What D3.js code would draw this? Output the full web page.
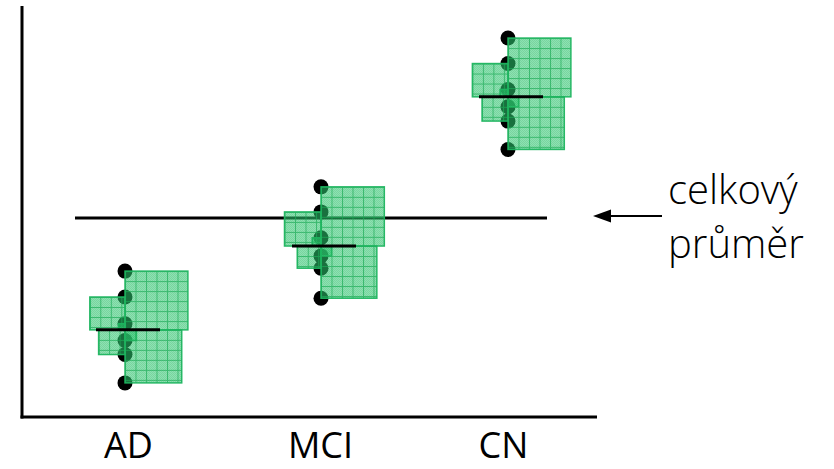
<!DOCTYPE html>
<html>
<head>
<meta charset="utf-8">
<script src="https://cdn.jsdelivr.net/npm/d3@7"></script>
<style>
  html, body { margin: 0; padding: 0; background: #ffffff; }
  svg { display: block; }
  text { font-family: "Open Sans", "Noto Sans", sans-serif; fill: #000; }
</style>
</head>
<body>
<svg id="chart" width="834" height="469"></svg>
<script>
// ---- data ----
const categories = ["AD", "MCI", "CN"];
const adValues  = [35.5, 29.2, 22.7, 18.6, 15.2, 8.3];
const mciValues = [56.0, 49.9, 43.6, 39.2, 36.2, 28.9];
const cnValues  = [92.2, 86.0, 79.7, 75.5, 72.0, 65.1];
const groupMeans = [21.2, 41.6, 77.9];
const grandMean = 48.4;
const annotationLines = ["celkový", "průměr"];

const groups = [adValues, mciValues, cnValues];

// ---- layout ----
const W = 834, H = 469;
const frame = { left: 22, right: 597, top: 6, bottom: 417 };
const sides = [1, -1, -1, 1, -1, 1];   // which side of the points each square is drawn
const squareStretch = 1.07;           // horizontal stretch of the squares in the picture

const svg = d3.select("#chart");

const y = d3.scaleLinear().domain([0, 100]).range([frame.bottom, frame.top]);
const x = d3.scaleOrdinal().domain(categories).range([125, 321, 508]);

const defs = svg.append("defs");
// fine checker texture
const chk = defs.append("pattern")
  .attr("id", "checker").attr("patternUnits", "userSpaceOnUse")
  .attr("width", 2).attr("height", 2);
chk.append("rect").attr("width", 1).attr("height", 1).attr("fill", "rgba(20,120,60,0.15)");
chk.append("rect").attr("x", 1).attr("y", 1).attr("width", 1).attr("height", 1).attr("fill", "rgba(20,120,60,0.15)");

// ---- axes frame ----
svg.append("line")
  .attr("x1", frame.left).attr("x2", frame.left)
  .attr("y1", frame.top).attr("y2", frame.bottom + 1.5)
  .attr("stroke", "#000").attr("stroke-width", 3);
svg.append("line")
  .attr("x1", frame.left - 1.5).attr("x2", frame.right)
  .attr("y1", frame.bottom).attr("y2", frame.bottom)
  .attr("stroke", "#000").attr("stroke-width", 3);

// category labels through d3 axis
const xAxis = svg.append("g")
  .attr("transform", `translate(0, ${frame.bottom})`)
  .call(d3.axisBottom(x).tickSize(0).tickPadding(15));
xAxis.select(".domain").remove();
xAxis.selectAll("text")
  .attr("font-size", 36)
  .attr("font-family", "'Open Sans', sans-serif")
  .attr("fill", "#000")
  .attr("dx", (d, i) => [3, -1, -5][i]);

// ---- grand mean line ----
svg.append("line")
  .attr("x1", x("AD") - 50).attr("x2", x("CN") + 39)
  .attr("y1", y(grandMean)).attr("y2", y(grandMean))
  .attr("stroke", "#000").attr("stroke-width", 3);

// ---- points ----
const gPoints = svg.append("g");
groups.forEach((vals, gi) => {
  gPoints.selectAll(null)
    .data(vals)
    .enter().append("circle")
    .attr("cx", x(categories[gi]))
    .attr("cy", d => y(d))
    .attr("r", 7.5)
    .attr("fill", "#000");
});

// ---- squares ----
const gSq = svg.append("g");
let pid = 0;
groups.forEach((vals, gi) => {
  const cx = x(categories[gi]);
  const my = y(groupMeans[gi]);
  vals.forEach((v, i) => {
    const py = y(v);
    const h = Math.abs(py - my);
    const w = h * squareStretch;
    const sx = sides[i] > 0 ? cx : cx - w;
    const sy = Math.min(py, my);
    const id = "grid" + (pid++);
    const p = defs.append("pattern")
      .attr("id", id).attr("patternUnits", "userSpaceOnUse")
      .attr("x", sx).attr("y", sy).attr("width", 10.5).attr("height", 10);
    p.append("rect").attr("width", 10.5).attr("height", 10).attr("fill", "rgba(46,204,113,0.55)");
    p.append("path").attr("d", "M0,0.5H10.5M0.5,0V10")
      .attr("stroke", "rgba(30,175,90,0.7)").attr("stroke-width", 1).attr("fill", "none");
    gSq.append("rect")
      .attr("x", sx).attr("y", sy).attr("width", w).attr("height", h)
      .attr("fill", `url(#${id})`);
    gSq.append("rect")
      .attr("x", sx).attr("y", sy).attr("width", w).attr("height", h)
      .attr("fill", "url(#checker)")
      .attr("stroke", "rgba(30,180,95,0.95)").attr("stroke-width", 1.5);
  });
});

// ---- group mean lines ----
groupMeans.forEach((m, gi) => {
  const cx = x(categories[gi]);
  svg.append("line")
    .attr("x1", cx - 29).attr("x2", cx + 35)
    .attr("y1", y(m)).attr("y2", y(m))
    .attr("stroke", "#000").attr("stroke-width", 3);
});

// ---- annotation ----
const ay = y(grandMean) - 2;
svg.append("line")
  .attr("x1", 608).attr("x2", 662)
  .attr("y1", ay).attr("y2", ay)
  .attr("stroke", "#000").attr("stroke-width", 2);
svg.append("path")
  .attr("d", `M593,${ay} L611,${ay - 6.5} L611,${ay + 6.5} Z`)
  .attr("fill", "#000");

const ann = svg.append("text")
  .attr("x", 668).attr("y", 204)
  .attr("font-size", 40)
  .attr("font-weight", 300);
annotationLines.forEach((t, i) => {
  ann.append("tspan").attr("x", 668).attr("dy", i === 0 ? 0 : 54).text(t);
});
</script>
</body>
</html>
